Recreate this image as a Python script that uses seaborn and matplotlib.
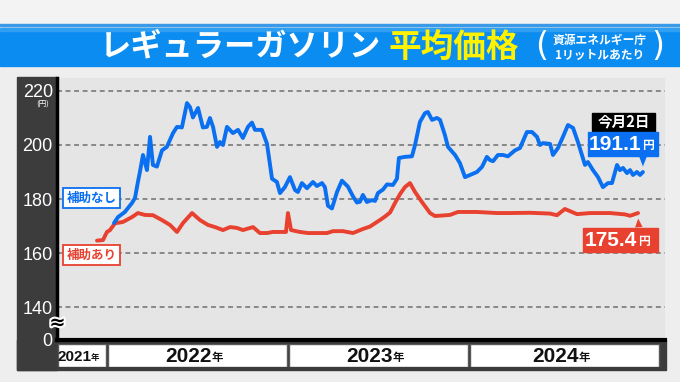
import numpy as np
import pandas as pd
import matplotlib
matplotlib.use("Agg")
import matplotlib.pyplot as plt
import seaborn as sns
from matplotlib.patches import Rectangle
import matplotlib.patheffects as pe

# ---------------- data (time in decimal years, price in yen / litre) ----------------
blue_t = [2022.039, 2022.061, 2022.099, 2022.138, 2022.155, 2022.171, 2022.182, 2022.199,
          2022.221, 2022.238, 2022.254, 2022.276, 2022.304, 2022.331, 2022.365, 2022.387,
          2022.414, 2022.442, 2022.459, 2022.475, 2022.503, 2022.530, 2022.552, 2022.569,
          2022.586, 2022.608, 2022.624, 2022.641, 2022.663, 2022.696, 2022.724, 2022.751,
          2022.779, 2022.801, 2022.818, 2022.856, 2022.884, 2022.912, 2022.939, 2022.956,
          2022.983, 2023.011, 2023.039, 2023.055, 2023.077, 2023.105, 2023.138, 2023.160,
          2023.188, 2023.204, 2023.221, 2023.243, 2023.271, 2023.298, 2023.331, 2023.359,
          2023.381, 2023.398, 2023.414, 2023.436, 2023.464, 2023.481, 2023.497, 2023.525,
          2023.547, 2023.580, 2023.602, 2023.613, 2023.646, 2023.685, 2023.702, 2023.729,
          2023.757, 2023.773, 2023.796, 2023.823, 2023.840, 2023.867, 2023.884, 2023.923,
          2023.950, 2023.978, 2024.006, 2024.044, 2024.072, 2024.099, 2024.116, 2024.133,
          2024.160, 2024.188, 2024.215, 2024.254, 2024.282, 2024.320, 2024.348, 2024.376,
          2024.392, 2024.409, 2024.448, 2024.464, 2024.492, 2024.519, 2024.547, 2024.575,
          2024.602, 2024.641, 2024.657, 2024.685, 2024.713, 2024.740, 2024.768, 2024.790,
          2024.818, 2024.834, 2024.851, 2024.873, 2024.890, 2024.906, 2024.928, 2024.945,
          2024.961]
blue_v = [171.1, 173.3, 175.2, 178.5, 180.4, 186.3, 190.0, 196.3,
          190.7, 203.0, 192.6, 192.0, 198.0, 199.3, 204.4, 206.7,
          206.5, 215.5, 214.0, 210.2, 213.7, 206.5, 206.7, 210.0,
          206.7, 199.3, 201.1, 200.0, 206.7, 204.4, 205.6, 202.6,
          206.7, 208.3, 205.6, 205.6, 200.5, 187.5, 186.3, 182.2,
          184.4, 188.1, 183.3, 182.6, 185.9, 184.0, 186.3, 184.8,
          185.9, 184.4, 177.5, 176.5, 182.6, 186.8, 184.6, 181.0,
          178.7, 179.0, 181.5, 178.9, 179.6, 179.3, 182.2, 183.5,
          185.4, 185.2, 187.5, 195.2, 195.6, 195.8, 200.0, 208.5,
          211.8, 212.2, 209.3, 210.0, 209.3, 203.7, 199.3, 196.3,
          193.3, 188.1, 188.9, 190.0, 191.9, 195.6, 194.4, 194.0,
          196.3, 196.3, 195.8, 198.0, 198.9, 204.8, 204.8, 203.0,
          200.0, 200.7, 200.4, 196.3, 198.9, 203.0, 207.4, 206.3,
          201.1, 192.6, 193.7, 190.7, 188.1, 184.4, 185.9, 185.9,
          192.6, 190.7, 191.5, 189.6, 190.7, 188.9, 190.0, 188.9,
          190.0]

red_t = [2021.945, 2021.978, 2022.000, 2022.017, 2022.044, 2022.088, 2022.138, 2022.171,
         2022.210, 2022.254, 2022.304, 2022.348, 2022.387, 2022.420, 2022.470, 2022.514,
         2022.558, 2022.597, 2022.641, 2022.680, 2022.718, 2022.751, 2022.807, 2022.845,
         2022.884, 2022.917, 2022.972, 2022.989, 2023.000, 2023.017, 2023.066, 2023.110,
         2023.215, 2023.249, 2023.304, 2023.359, 2023.414, 2023.453, 2023.508, 2023.536,
         2023.564, 2023.591, 2023.619, 2023.646, 2023.674, 2023.702, 2023.740, 2023.785,
         2023.812, 2023.895, 2023.939, 2024.044, 2024.155, 2024.227, 2024.337, 2024.448,
         2024.486, 2024.530, 2024.597, 2024.669, 2024.779, 2024.862, 2024.890, 2024.934]
red_v = [164.6, 164.8, 167.8, 168.5, 171.0, 171.5, 173.3, 174.8,
         174.1, 174.0, 172.2, 170.4, 167.8, 171.1, 174.8, 172.2,
         170.4, 169.6, 168.5, 169.6, 169.3, 168.5, 169.6, 167.4,
         167.4, 167.8, 167.8, 167.8, 174.8, 168.5, 167.8, 167.4,
         167.4, 168.1, 168.1, 167.4, 168.9, 169.8, 172.2, 173.5,
         175.0, 178.5, 181.8, 184.4, 185.9, 182.6, 178.9, 174.8,
         173.7, 174.1, 175.2, 175.2, 174.8, 174.8, 174.9, 174.6,
         174.0, 176.3, 174.4, 174.8, 174.8, 174.3, 173.8, 174.8]

years = ["2021", "2022", "2023", "2024"]
year_start = [2021.724, 2022.0, 2023.0, 2024.0]
year_end = [2022.0, 2023.0, 2024.0, 2025.055]
grid_values = [140, 160, 180, 200, 220]
blue_label_value = "191.1"
red_label_value = "175.4"
series_names = ["補助なし", "補助あり"]

# ---------------- style ----------------
sns.set_theme(style="white")
plt.rcParams["font.family"] = ["Noto Sans CJK JP", "DejaVu Sans"]

BLUE = "#0a6ff0"
RED = "#e8412f"
W, H = 680, 382

fig = plt.figure(figsize=(6.8, 3.82), dpi=100, facecolor="#eeeeee")


def fx(x):
    return x / W


def fy(y):
    return 1 - y / H


def frect(x0, y0, x1, y1, zorder=-1, **kw):
    fig.patches.append(Rectangle((fx(x0), fy(y1)), (x1 - x0) / W, (y1 - y0) / H,
                                 transform=fig.transFigure, zorder=zorder, **kw))


# title band
frect(0, 0, 680, 23, color="#f3f3f3")
frect(0, 23.5, 680, 25.5, color="#3b9ae8")
frect(0, 28, 680, 66, color="#0b8cf0")
frect(0, 28, 680, 31, color="#2f9ff2")

fig.text(fx(100), fy(47), "レギュラーガソリン", color="white", fontsize=22.5,
         fontweight="bold", ha="left", va="center")
fig.text(fx(389), fy(47), "平均価格", color="#fff200", fontsize=23.5,
         fontweight="bold", ha="left", va="center")
fig.text(fx(542), fy(47), "(", color="white", fontsize=24, ha="center", va="center",
         fontfamily="DejaVu Sans")
fig.text(fx(658), fy(47), ")", color="white", fontsize=24, ha="center", va="center",
         fontfamily="DejaVu Sans")
fig.text(fx(600), fy(40), "資源エネルギー庁", color="white", fontsize=8.5,
         fontweight="bold", ha="center", va="center")
fig.text(fx(600), fy(55), "1リットルあたり", color="white", fontsize=8.5,
         fontweight="bold", ha="center", va="center")

# dark left panel + year row background
frect(17, 77, 57, 370, color="#3c3c3c")
frect(17, 340, 666, 370, color="#3c3c3c")

# ---------------- main axes ----------------
ax = fig.add_axes([fx(57), fy(340), (665 - 57) / W, (340 - 78) / H])
ax.set_facecolor("#e5e5e5")
ylo, yhi = 127.8, 224.8
xlo, xhi = 2021.724, 2025.083
ax.set_xlim(xlo, xhi)
ax.set_ylim(ylo, yhi)

for g in grid_values:
    ax.axhline(g, color="#6f6f6f", lw=1.1, ls=(0, (3.2, 2.4)), zorder=1)

df_blue = pd.DataFrame({"t": blue_t, "v": blue_v})
df_red = pd.DataFrame({"t": red_t, "v": red_v})
sns.lineplot(data=df_red, x="t", y="v", ax=ax, color=RED, lw=2.8, zorder=3,
             solid_joinstyle="round", solid_capstyle="round")
sns.lineplot(data=df_blue, x="t", y="v", ax=ax, color=BLUE, lw=2.8, zorder=4,
             solid_joinstyle="round", solid_capstyle="round")

for s in ["top", "right"]:
    ax.spines[s].set_visible(False)
ax.spines["left"].set_color("black")
ax.spines["left"].set_linewidth(2.5)
ax.spines["bottom"].set_color("black")
ax.spines["bottom"].set_linewidth(3)
ax.set_xlabel("")
ax.set_ylabel("")
ax.set_xticks([])
ax.set_yticks([ylo] + grid_values)
ax.set_yticklabels(["0"] + [str(g) for g in grid_values], color="white",
                   fontsize=13, fontfamily="Liberation Sans")
ax.tick_params(axis="y", length=0, pad=3)

# unit and axis-break mark
fig.text(fx(43), fy(104.5), "(円)", color="white", fontsize=5.5, ha="center", va="center")
fig.text(fx(57.5), fy(323), "≈", color="black", fontsize=14, ha="center", va="center",
         fontfamily="DejaVu Sans", fontweight="bold",
         path_effects=[pe.withStroke(linewidth=3, foreground="white")], zorder=10)

# series labels
fig.text(fx(91.5), fy(198), series_names[0], color=BLUE, fontsize=9, fontweight="bold",
         ha="center", va="center",
         bbox=dict(boxstyle="square,pad=0.3", fc="white", ec=BLUE, lw=1.3))
fig.text(fx(91.5), fy(255), series_names[1], color=RED, fontsize=9, fontweight="bold",
         ha="center", va="center",
         bbox=dict(boxstyle="square,pad=0.3", fc="white", ec=RED, lw=1.3))

# ---------------- end-value callouts ----------------
frect(592, 113, 655, 131, zorder=5, color="black")
fig.text(fx(623.5), fy(122), "今月2日", color="white", fontsize=10.5, fontweight="bold",
         ha="center", va="center", zorder=6)

frect(588, 132, 658, 156, zorder=5, color=BLUE)
fig.text(fx(641), fy(144.5), blue_label_value, color="white", fontsize=15,
         fontweight="bold", ha="right", va="center", zorder=6, fontfamily="Liberation Sans")
fig.text(fx(642), fy(146), "円", color="white", fontsize=8.5, fontweight="bold",
         ha="left", va="center", zorder=6)
ax.annotate("", xy=(blue_t[-1], blue_v[-1] + 1.0), xycoords="data",
            xytext=(643, H - 154), textcoords="figure pixels",
            arrowprops=dict(arrowstyle="wedge,tail_width=0.45", color=BLUE, lw=0),
            annotation_clip=False, zorder=5)

frect(583, 228, 658, 252, zorder=5, color=RED)
fig.text(fx(637), fy(240.5), red_label_value, color="white", fontsize=15,
         fontweight="bold", ha="right", va="center", zorder=6, fontfamily="Liberation Sans")
fig.text(fx(638), fy(242), "円", color="white", fontsize=8.5, fontweight="bold",
         ha="left", va="center", zorder=6)
ax.annotate("", xy=(red_t[-1], red_v[-1] - 1.0), xycoords="data",
            xytext=(639, H - 230), textcoords="figure pixels",
            arrowprops=dict(arrowstyle="wedge,tail_width=0.45", color=RED, lw=0),
            annotation_clip=False, zorder=5)

# ---------------- year row ----------------
axy = fig.add_axes([fx(57), fy(367), (665 - 57) / W, (367 - 344) / H])
axy.set_xlim(xlo, xhi)
axy.set_ylim(0, 1)
axy.axis("off")
d = 0.004
for yr, s, e in zip(years, year_start, year_end):
    axy.add_patch(Rectangle((s + d, 0.0), e - s - 2 * d, 1.0, fc="white", ec="#5a5a5a", lw=1.0))
    c = (s + e) / 2
    small = yr == "2021"
    fs = 11 if small else 15
    off = 6.5 if small else 10
    axy.annotate(yr, xy=(c, 0.45), xytext=(off, 0), textcoords="offset points",
                 ha="right", va="center", fontsize=fs, fontweight="bold", color="#111111",
                 fontfamily="Liberation Sans")
    axy.annotate("年", xy=(c, 0.40), xytext=(off, 0), textcoords="offset points",
                 ha="left", va="center", fontsize=fs * 0.55, fontweight="bold", color="#111111")

fig.savefig("out.png", dpi=100, facecolor=fig.get_facecolor())
